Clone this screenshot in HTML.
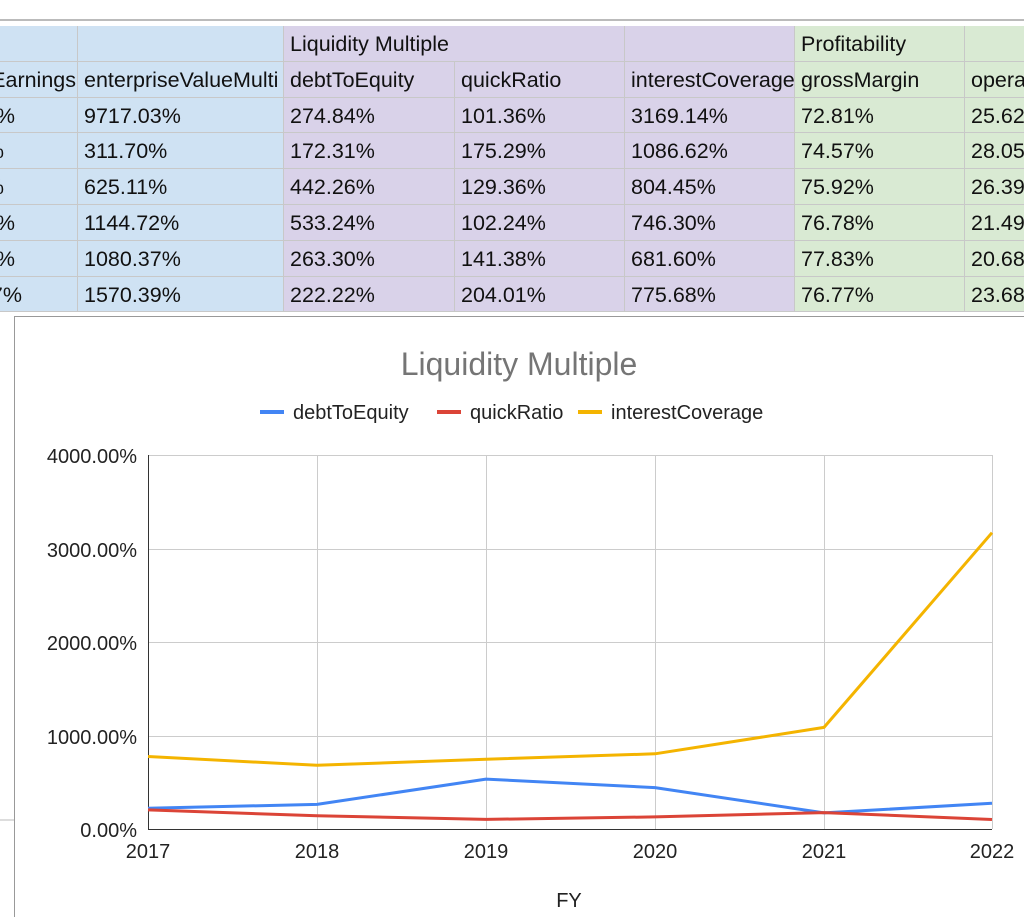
<!DOCTYPE html>
<html><head><meta charset="utf-8"><style>
body{margin:0;width:1024px;height:917px;overflow:hidden;background:#fff;font-family:"Liberation Sans",Arial,sans-serif;position:relative}
#t{position:absolute;left:0;top:0;width:1024px;height:320px;overflow:hidden}
.c{position:absolute;font-size:21.5px;color:#111;line-height:36px;padding-left:6px;box-sizing:border-box;white-space:nowrap;overflow:hidden;border-right:1px solid #c8c8c8;border-bottom:1px solid #c8c8c8}
.f{position:absolute;left:0;height:36px;overflow:hidden}
.f span{position:absolute;right:0;top:0;font-size:21.5px;color:#111;line-height:36px;white-space:nowrap}
</style></head><body>
<div style="position:absolute;left:0;top:19px;width:1024px;height:2px;background:#bbb"></div>
<div id="t"></div>
<svg style="position:absolute;left:0;top:0" width="1024" height="917">
<line x1="0" y1="820" x2="14" y2="820" stroke="#bbb"/>
<path d="M14.5 917 V316.5 H1024" fill="#fff" stroke="#999"/>
<text x="519" y="375" font-size="32" fill="#757575" text-anchor="middle" font-family="Liberation Sans">Liquidity Multiple</text>
<line x1="260" y1="412" x2="284" y2="412" stroke="#4285f4" stroke-width="4"/>
<text x="293" y="419" font-size="20" fill="#222">debtToEquity</text>
<line x1="437" y1="412" x2="461" y2="412" stroke="#db4437" stroke-width="4"/>
<text x="470" y="419" font-size="20" fill="#222">quickRatio</text>
<line x1="578" y1="412" x2="602" y2="412" stroke="#f4b400" stroke-width="4"/>
<text x="611" y="419" font-size="20" fill="#222">interestCoverage</text>
<g stroke="#ccc" stroke-width="1">
<line x1="148" y1="455.5" x2="992" y2="455.5"/><line x1="148" y1="549.5" x2="992" y2="549.5"/><line x1="148" y1="642.5" x2="992" y2="642.5"/><line x1="148" y1="736.5" x2="992" y2="736.5"/>
<line x1="317.5" y1="455" x2="317.5" y2="829"/><line x1="486.5" y1="455" x2="486.5" y2="829"/><line x1="655.5" y1="455" x2="655.5" y2="829"/><line x1="824.5" y1="455" x2="824.5" y2="829"/><line x1="992.5" y1="455" x2="992.5" y2="829"/>
</g>
<line x1="148.5" y1="455" x2="148.5" y2="830" stroke="#333"/>
<line x1="148" y1="829.5" x2="992" y2="829.5" stroke="#333"/>
<g font-size="20" fill="#222" text-anchor="end">
<text x="137" y="463">4000.00%</text><text x="137" y="557">3000.00%</text><text x="137" y="650">2000.00%</text><text x="137" y="744">1000.00%</text><text x="137" y="837">0.00%</text></g>
<g font-size="20" fill="#222" text-anchor="middle">
<text x="148" y="858">2017</text><text x="317" y="858">2018</text><text x="486" y="858">2019</text><text x="655" y="858">2020</text><text x="824" y="858">2021</text><text x="992" y="858">2022</text>
<text x="569" y="907">FY</text></g>
<g fill="none" stroke-width="3" stroke-linejoin="round">
<polyline stroke="#f4b400" points="148,756.5 317,765.3 486,759.2 655,753.8 824,727.4 992,532.7"/>
<polyline stroke="#4285f4" points="148,808.2 317,804.4 486,779.1 655,787.6 824,812.9 992,803.3"/>
<polyline stroke="#db4437" points="148,809.9 317,815.8 486,819.4 655,816.9 824,812.6 992,819.5"/>
</g>
</svg>
<script>
(function(){
var cols=[[0,78,'#cfe2f3'],[78,206,'#cfe2f3'],[284,171,'#d9d2e9'],[455,170,'#d9d2e9'],[625,170,'#d9d2e9'],[795,170,'#d9ead3'],[965,59,'#d9ead3']];
var rows=[["","","Liquidity Multiple","","","Profitability",""],
["","enterpriseValueMulti","debtToEquity","quickRatio","interestCoverage","grossMargin","operatingMargin"],
["","9717.03%","274.84%","101.36%","3169.14%","72.81%","25.62%"],
["","311.70%","172.31%","175.29%","1086.62%","74.57%","28.05%"],
["","625.11%","442.26%","129.36%","804.45%","75.92%","26.39%"],
["","1144.72%","533.24%","102.24%","746.30%","76.78%","21.49%"],
["","1080.37%","263.30%","141.38%","681.60%","77.83%","20.68%"],
["","1570.39%","222.22%","204.01%","775.68%","76.77%","23.68%"]];
var ends=[["Earnings",76],["12.32%",15],["2.1%",4],["3.1%",4],["41.52%",15],["35.22%",15],["41.37%",22]];
var h='';
for(var r=0;r<8;r++){
var ty=Math.round(26+r*35.8),ny=Math.round(26+(r+1)*35.8);
for(var c=0;c<7;c++){
var x=cols[c][0],w=cols[c][1],txt=rows[r][c];
if(r==0&&c==2)w=341;if(r==0&&c==3)continue;
h+='<div class="c" style="left:'+x+'px;top:'+ty+'px;height:'+(ny-ty)+'px;width:'+w+'px;background:'+cols[c][2]+(c==6?';border-right:none':'')+'">'+txt+'</div>';}
if(r>0){var e=ends[r-1];h+='<div class="f" style="width:'+e[1]+'px;top:'+ty+'px"><span>'+e[0]+'</span></div>';}
}
document.getElementById('t').innerHTML=h;
})();
</script>
</body></html>
